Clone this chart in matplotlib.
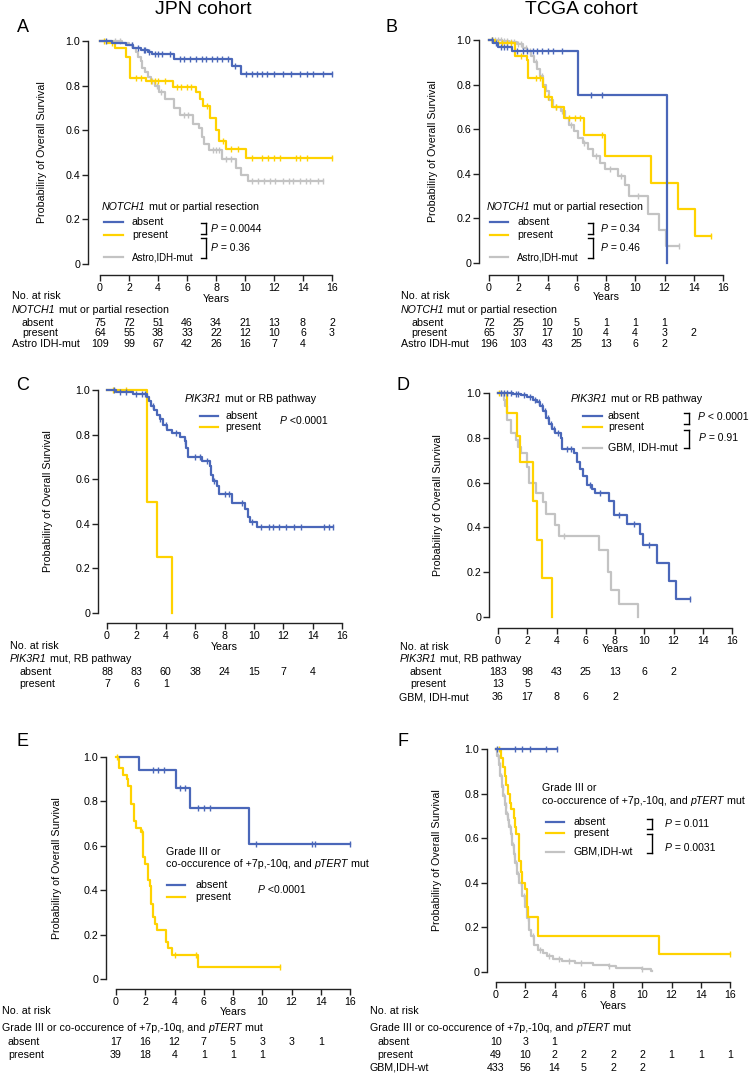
import matplotlib
matplotlib.use('Agg')
import matplotlib.pyplot as plt
import numpy as np
from matplotlib.lines import Line2D
from matplotlib.text import Annotation
from matplotlib.transforms import blended_transform_factory

plt.rcParams['font.family'] = ['Liberation Sans', 'DejaVu Sans']

BLUE = '#4a67b9'
YEL = '#ffd200'
GRAY = '#c3c3c3'

# ---------------- data ----------------
xticks = list(range(0, 17, 2))
yticks = [0, 0.2, 0.4, 0.6, 0.8, 1.0]
ytick_labels = ['0', '0.2', '0.4', '0.6', '0.8', '1.0']

# Panel A (JPN, NOTCH1)
A_abs_t = [0, 0.8, 1.8, 2.3, 2.8, 3.3, 3.6, 5.1, 9.1, 9.7]
A_abs_s = [1.0, 0.99, 0.98, 0.97, 0.96, 0.95, 0.94, 0.92, 0.89, 0.85]
A_abs_end = 16.0
A_abs_c = [0.4, 2.2, 2.6, 3.0, 3.1, 3.4, 3.8, 4.0, 4.3, 4.8, 5.5, 5.8, 6.2, 6.6, 7.0, 7.3, 7.7,
           8.1, 8.4, 8.8, 9.3, 10.1, 10.5, 10.8, 11.2, 11.5, 12.0, 12.6, 13.2, 13.8, 14.3, 14.7, 15.4, 16.0]
A_pre_t = [0, 0.5, 1.0, 1.8, 2.1, 3.2, 5.0, 6.6, 6.9, 7.1, 7.6, 8.0, 8.2, 8.7, 10.1]
A_pre_s = [1.0, 0.99, 0.97, 0.93, 0.835, 0.82, 0.795, 0.77, 0.74, 0.71, 0.655, 0.60, 0.55, 0.515, 0.475]
A_pre_end = 16.0
A_pre_c = [0.3, 0.8, 2.5, 2.8, 3.5, 3.8, 4.0, 4.5, 5.3, 5.6, 6.0, 6.3, 7.4, 8.5, 9.0, 9.5, 10.5,
           11.2, 11.6, 12.0, 12.4, 13.5, 13.8, 14.3, 16.0]
A_ast_t = [0, 1.5, 2.0, 2.3, 2.5, 2.6, 2.8, 2.9, 3.1, 3.3, 3.5, 3.8, 4.1, 4.5, 5.1, 5.5, 6.4, 6.8,
           7.0, 7.2, 7.5, 8.4, 9.4, 9.7, 10.2]
A_ast_s = [1.0, 0.99, 0.98, 0.97, 0.95, 0.93, 0.91, 0.88, 0.86, 0.84, 0.82, 0.80, 0.77, 0.74, 0.70,
           0.67, 0.63, 0.61, 0.57, 0.54, 0.51, 0.47, 0.43, 0.40, 0.37]
A_ast_end = 15.4
A_ast_c = [1.0, 1.4, 2.2, 3.6, 3.9, 4.2, 5.8, 6.1, 7.8, 8.0, 8.2, 8.7, 9.0, 10.5, 10.9, 11.3, 11.7,
           12.1, 12.6, 13.0, 13.3, 13.8, 14.2, 14.5, 15.0, 15.4]
A_risk_abs = [75, 72, 51, 46, 34, 21, 13, 8, 2]
A_risk_pre = [64, 55, 38, 33, 22, 12, 10, 6, 3]
A_risk_ast = [109, 99, 67, 42, 26, 16, 7, 4]

# Panel B (TCGA, NOTCH1)
B_abs_t = [0, 0.3, 0.6, 1.6, 6.1, 12.2]
B_abs_s = [1.0, 0.985, 0.97, 0.95, 0.755, 0.0]
B_abs_end = 12.2
B_abs_c = [0.2, 0.5, 0.8, 1.0, 1.2, 1.9, 2.3, 2.6, 3.0, 3.3, 3.6, 4.0, 4.4, 5.0, 7.0, 7.7]
B_pre_t = [0, 0.4, 1.8, 2.6, 2.7, 3.7, 3.8, 4.3, 5.1, 6.5, 7.9, 11.1, 12.9, 14.1]
B_pre_s = [1.0, 0.985, 0.93, 0.91, 0.83, 0.79, 0.745, 0.70, 0.65, 0.575, 0.48, 0.36, 0.24, 0.12]
B_pre_end = 15.2
B_pre_c = [0.2, 0.6, 0.9, 1.2, 1.5, 2.2, 3.2, 3.5, 4.0, 4.6, 5.5, 5.9, 6.2, 7.7, 15.2]
B_ast_t = [0, 0.9, 1.4, 1.9, 2.3, 2.6, 2.9, 3.1, 3.3, 3.5, 3.7, 3.9, 4.1, 4.4, 4.9, 5.2, 5.5, 5.8,
           6.1, 6.4, 6.8, 7.1, 7.6, 7.9, 8.8, 9.3, 9.6, 10.9, 11.6, 12.1]
B_ast_s = [1.0, 0.995, 0.99, 0.98, 0.965, 0.95, 0.93, 0.90, 0.87, 0.84, 0.80, 0.77, 0.73, 0.70,
           0.68, 0.65, 0.62, 0.59, 0.56, 0.54, 0.51, 0.48, 0.45, 0.42, 0.39, 0.35, 0.30, 0.22, 0.15, 0.075]
B_ast_end = 13.0
B_ast_c = [0.2, 0.4, 0.6, 0.8, 1.0, 1.2, 1.5, 1.7, 2.0, 2.2, 2.5, 2.8, 3.2, 3.6, 4.6, 5.0, 5.6, 6.5,
           7.3, 8.3, 9.0, 10.2, 13.0]
B_risk_abs = [72, 25, 10, 5, 1, 1, 1]
B_risk_pre = [65, 37, 17, 10, 4, 4, 3, 2]
B_risk_ast = [196, 103, 43, 25, 13, 6, 2]

# Panel C (JPN, PIK3R1)
C_abs_t = [0, 0.6, 1.8, 2.7, 2.85, 3.0, 3.2, 3.4, 3.6, 3.8, 4.1, 4.4, 5.0, 5.3, 5.4, 5.5, 6.5, 7.0,
           7.1, 7.2, 7.5, 7.6, 8.5, 9.4, 9.6, 9.75, 10.2]
C_abs_s = [1.0, 0.99, 0.98, 0.97, 0.95, 0.93, 0.91, 0.89, 0.87, 0.845, 0.82, 0.805, 0.79, 0.77,
           0.74, 0.70, 0.68, 0.66, 0.62, 0.59, 0.57, 0.535, 0.495, 0.465, 0.43, 0.41, 0.385]
C_abs_end = 15.4
C_abs_c = [0.5, 0.9, 1.3, 2.0, 2.4, 2.6, 3.1, 3.6, 4.0, 4.7, 5.3, 6.0, 6.3, 6.8, 7.3, 8.0, 8.3,
           9.2, 9.9, 10.5, 11.0, 11.3, 11.7, 12.2, 12.7, 13.2, 14.8, 15.1, 15.4]
C_pre_t = [0, 2.7, 3.4, 4.4]
C_pre_s = [1.0, 0.5, 0.25, 0.0]
C_pre_end = 4.4
C_pre_c = [0.4, 1.3]
C_risk_abs = [88, 83, 60, 38, 24, 15, 7, 4]
C_risk_pre = [7, 6, 1]

# Panel D (TCGA, PIK3R1)
D_abs_t = [0, 1.0, 1.6, 2.0, 2.4, 2.7, 2.9, 3.1, 3.3, 3.5, 3.7, 3.9, 4.3, 4.4, 5.2, 5.4, 5.6, 5.8,
           6.1, 6.4, 6.6, 7.6, 7.9, 8.8, 9.7, 9.9, 10.9, 11.7, 12.2]
D_abs_s = [1.0, 0.995, 0.99, 0.98, 0.97, 0.96, 0.94, 0.92, 0.89, 0.86, 0.84, 0.82, 0.80, 0.75,
           0.73, 0.69, 0.66, 0.63, 0.59, 0.57, 0.555, 0.52, 0.455, 0.415, 0.37, 0.32, 0.24, 0.16, 0.08]
D_abs_end = 13.1
D_abs_c = [0.2, 0.4, 0.6, 0.9, 1.2, 1.4, 1.8, 2.2, 2.5, 2.8, 3.0, 3.2, 3.4, 3.6, 3.8, 4.1, 4.7,
           5.0, 6.3, 7.0, 8.3, 9.3, 10.3, 13.1]
D_pre_t = [0, 0.6, 1.3, 1.5, 2.4, 2.7, 3.0, 3.7]
D_pre_s = [1.0, 0.91, 0.81, 0.69, 0.52, 0.345, 0.174, 0.0]
D_pre_end = 3.7
D_pre_c = [0.1]
D_gbm_t = [0, 0.4, 0.5, 0.6, 0.9, 1.2, 1.4, 1.6, 2.0, 2.1, 2.6, 3.1, 3.3, 3.9, 4.2, 6.9, 7.5, 7.7, 8.3, 9.6]
D_gbm_s = [1.0, 0.97, 0.94, 0.88, 0.82, 0.79, 0.76, 0.73, 0.67, 0.60, 0.555, 0.515, 0.46, 0.41,
           0.36, 0.30, 0.20, 0.12, 0.06, 0.0]
D_gbm_end = 9.6
D_gbm_c = [0.2, 4.5]
D_risk_abs = [183, 98, 43, 25, 13, 6, 2]
D_risk_pre = [13, 5]
D_risk_gbm = [36, 17, 8, 6, 2]

# Panel E (JPN, Grade III / +7p-10q / pTERT)
E_abs_t = [0, 1.6, 4.1, 5.05, 9.1]
E_abs_s = [1.0, 0.94, 0.86, 0.77, 0.61]
E_abs_end = 16.0
E_abs_c = [2.5, 2.9, 3.3, 4.4, 4.7, 5.6, 6.0, 6.4, 9.6, 13.4, 13.6, 16.0]
E_abs_start = 0.27
E_pre_t = [0, 0.2, 0.5, 0.75, 0.85, 1.0, 1.2, 1.4, 1.7, 1.85, 2.0, 2.2, 2.35, 2.4, 2.5, 2.65, 2.8,
           3.4, 3.55, 3.85, 5.6]
E_pre_s = [1.0, 0.95, 0.92, 0.90, 0.87, 0.79, 0.71, 0.68, 0.66, 0.55, 0.52, 0.445, 0.42, 0.34,
           0.28, 0.25, 0.22, 0.167, 0.14, 0.11, 0.055]
E_pre_end = 11.2
E_pre_c = [0.1, 1.8, 4.0, 5.5, 11.2]
E_risk_abs = [17, 16, 12, 7, 5, 3, 3, 1]
E_risk_pre = [39, 18, 4, 1, 1, 1]

# Panel F (TCGA, Grade III / +7p-10q / pTERT)
F_abs_t = [0]
F_abs_s = [1.0]
F_abs_end = 4.2
F_abs_c = [0.1, 1.3, 1.8, 2.3, 3.4, 4.2]
F_pre_t = [0, 0.35, 0.5, 0.6, 0.7, 0.8, 0.95, 1.05, 1.2, 1.3, 1.4, 1.55, 1.6, 1.7, 1.75, 2.0, 2.1,
           2.2, 2.85, 11.15]
F_pre_s = [1.0, 0.96, 0.92, 0.88, 0.84, 0.80, 0.76, 0.73, 0.69, 0.65, 0.62, 0.56, 0.50, 0.45,
           0.40, 0.37, 0.29, 0.245, 0.16, 0.08]
F_pre_end = 16.0
F_pre_c = [0.2, 16.0]
F_gbm_t = [0, 0.1, 0.2, 0.3, 0.4, 0.5, 0.6, 0.7, 0.8, 0.9, 1.0, 1.1, 1.2, 1.3, 1.45, 1.6, 1.8,
           1.95, 2.1, 2.25, 2.4, 2.6, 2.9, 3.2, 3.5, 3.9, 4.5, 5.4, 6.6, 7.7, 8.2, 10.0, 10.6]
F_gbm_s = [1.0, 0.97, 0.93, 0.88, 0.83, 0.79, 0.75, 0.71, 0.68, 0.65, 0.62, 0.57, 0.53, 0.49,
           0.44, 0.40, 0.34, 0.29, 0.24, 0.19, 0.16, 0.12, 0.10, 0.085, 0.07, 0.06, 0.05, 0.04,
           0.03, 0.025, 0.018, 0.013, 0.005]
F_gbm_end = 10.7
F_gbm_c = [0.15, 0.25, 0.35, 0.45, 0.55, 0.65, 0.75, 0.85, 0.95, 1.05, 1.15, 1.25, 1.35, 1.5,
           1.7, 1.9, 2.2, 2.5, 3.0, 3.6, 4.3, 5.0, 5.8, 7.7, 10.0]
F_risk_abs = [10, 3, 1]
F_risk_pre = [49, 10, 2, 2, 2, 2, 1, 1, 1]
F_risk_gbm = [433, 56, 14, 5, 2, 2]

# ---------------- figure ----------------
W, H = 750, 1076
fig = plt.figure(figsize=(W / 100, H / 100), dpi=100)
FS = 7.7


def ptext(x, y, s, **kw):
    kw.setdefault('fontsize', FS)
    kw.setdefault('va', 'center')
    return fig.text(x / W, 1 - y / H, s, **kw)


def rich(x, y, parts, fontsize=FS):
    """parts: list of (string, italic) drawn one after another."""
    first, it = parts[0]
    prev = ptext(x, y, first, fontsize=fontsize, style='italic' if it else 'normal')
    for s, it in parts[1:]:
        a = Annotation(s, xy=(1, 0.5), xycoords=prev, va='center', ha='left',
                       fontsize=fontsize, style='italic' if it else 'normal')
        fig.add_artist(a)
        prev = a
    return prev


def pline(x1, y1, x2, y2, color='black', lw=1.0):
    fig.add_artist(Line2D([x1 / W, x2 / W], [1 - y1 / H, 1 - y2 / H], color=color, lw=lw,
                          transform=fig.transFigure))


def bracket(x, y1, y2, w=5):
    pline(x, y1, x, y2, lw=1.0)
    pline(x - w, y1, x, y1, lw=1.0)
    pline(x - w, y2, x, y2, lw=1.0)


def add_ax(x0, x1, yt, yb, lo, bo):
    ax = fig.add_axes([x0 / W, 1 - yb / H, (x1 - x0) / W, (yb - yt) / H])
    ax.set_xlim(0, 16)
    ax.set_ylim(0, 1)
    for sp in ['top', 'right']:
        ax.spines[sp].set_visible(False)
    ax.spines['left'].set_position(('outward', lo * 0.72))
    ax.spines['bottom'].set_position(('outward', bo * 0.72))
    ax.spines['left'].set_bounds(0, 1)
    ax.spines['bottom'].set_bounds(0, 16)
    for sp in ['left', 'bottom']:
        ax.spines[sp].set_linewidth(1.0)
        ax.spines[sp].set_color('#222222')
    ax.set_xticks(xticks)
    ax.set_yticks(yticks)
    ax.set_yticklabels(ytick_labels)
    ax.tick_params(labelsize=7.7, length=4, width=1.0, pad=1.5, color='#222222')
    ax.patch.set_visible(False)
    return ax


def km(ax, t, s, end, cens, color, start=None, z=2):
    t = np.asarray(t, float)
    s = np.asarray(s, float)
    tt = np.append(t, end)
    ss = np.append(s, s[-1])
    if start is not None:
        tt[0] = start
    ax.step(tt, ss, where='post', color=color, lw=1.6, clip_on=False, zorder=z)
    c = np.asarray(cens, float)
    idx = np.searchsorted(t, c, side='right') - 1
    ax.plot(c, s[idx], ls='none', marker='|', ms=5, mew=1.0, color=color, clip_on=False, zorder=z)


def risk_row(ax, y, values):
    tr = blended_transform_factory(ax.transData, fig.transFigure)
    for xv, v in zip(xticks, values):
        ax.text(xv, 1 - y / H, str(v), transform=tr, ha='center', va='center', fontsize=FS,
                clip_on=False)


def ylab(x, yt, yb):
    ptext(x, (yt + yb) / 2, 'Probabiliry of Overall Survival', rotation=90, ha='center')


def pval(x, y, rest, fontsize=7.5):
    rich(x, y, [('P', True), (rest, False)], fontsize=fontsize)


# titles
ptext(203, 9, 'JPN cohort', fontsize=14, ha='center')
ptext(581, 9, 'TCGA cohort', fontsize=14, ha='center')
for lbl, x, y in [('A', 23, 27), ('B', 392, 27), ('C', 23, 385), ('D', 403, 385), ('E', 23, 742), ('F', 403, 742)]:
    ptext(x, y, lbl, fontsize=13, ha='center')

NOTCH = [('NOTCH1', True), (' mut or partial resection', False)]
PIK = [('PIK3R1', True), (' mut or RB pathway', False)]
PIKT = [('PIK3R1', True), (' mut, RB pathway', False)]
GRADE2 = [('co-occurence of +7p,-10q, and ', False), ('pTERT', True), (' mut', False)]
GRADET = [('Grade III or co-occurence of +7p,-10q, and ', False), ('pTERT', True), (' mut', False)]

# ---- Panel A ----
axA = add_ax(100, 332, 41, 264, 12, 11)
km(axA, A_ast_t, A_ast_s, A_ast_end, A_ast_c, GRAY, z=2)
km(axA, A_pre_t, A_pre_s, A_pre_end, A_pre_c, YEL, z=3)
km(axA, A_abs_t, A_abs_s, A_abs_end, A_abs_c, BLUE, z=4)
ylab(42, 41, 264)
ptext(216, 299, 'Years', ha='center')
rich(102, 207, NOTCH)
for y, c, s, fs in [(222, BLUE, 'absent', FS), (235, YEL, 'present', FS), (257, GRAY, 'Astro,IDH-mut', 7.0)]:
    pline(104, y, 123, y, color=c, lw=1.6)
    ptext(132, y, s, fontsize=fs)
bracket(206, 223, 234)
bracket(206, 238, 258)
pval(211, 229, ' = 0.0044')
pval(211, 248, ' = 0.36')
ptext(12, 296, 'No. at risk')
rich(12, 310, NOTCH)
ptext(22, 323, 'absent')
ptext(22, 333, 'present')
ptext(12, 344, 'Astro IDH-mut')
risk_row(axA, 323, A_risk_abs)
risk_row(axA, 333, A_risk_pre)
risk_row(axA, 344, A_risk_ast)

# ---- Panel B ----
axB = add_ax(489, 723, 40, 263, 10, 12)
km(axB, B_ast_t, B_ast_s, B_ast_end, B_ast_c, GRAY, z=2)
km(axB, B_pre_t, B_pre_s, B_pre_end, B_pre_c, YEL, z=3)
km(axB, B_abs_t, B_abs_s, B_abs_end, B_abs_c, BLUE, z=4)
ylab(433, 40, 263)
ptext(606, 297, 'Years', ha='center')
rich(487, 207, NOTCH)
for y, c, s, fs in [(222, BLUE, 'absent', FS), (235, YEL, 'present', FS), (257, GRAY, 'Astro,IDH-mut', 7.0)]:
    pline(490, y, 508, y, color=c, lw=1.6)
    ptext(517, y, s, fontsize=fs)
bracket(593, 223, 234)
bracket(593, 238, 258)
pval(601, 229, ' = 0.34')
pval(601, 248, ' = 0.46')
ptext(401, 296, 'No. at risk')
rich(401, 310, NOTCH)
ptext(411, 323, 'absent')
ptext(411, 333, 'present')
ptext(401, 344, 'Astro IDH-mut')
risk_row(axB, 323, B_risk_abs)
risk_row(axB, 333, B_risk_pre)
risk_row(axB, 344, B_risk_ast)

# ---- Panel C ----
axC = add_ax(107, 342, 390, 613, 9, 10)
km(axC, C_pre_t, C_pre_s, C_pre_end, C_pre_c, YEL, z=3)
km(axC, C_abs_t, C_abs_s, C_abs_end, C_abs_c, BLUE, z=4)
ylab(48, 390, 613)
ptext(224, 647, 'Years', ha='center')
rich(185, 399, PIK)
for y, c, s in [(416, BLUE, 'absent'), (427, YEL, 'present')]:
    pline(200, y, 218, y, color=c, lw=1.6)
    ptext(225, y, s)
pval(280, 421, ' <0.0001')
ptext(10, 646, 'No. at risk')
rich(10, 659, PIKT)
ptext(19, 672, 'absent')
ptext(19, 684, 'present')
risk_row(axC, 672, C_risk_abs)
risk_row(axC, 684, C_risk_pre)

# ---- Panel D ----
axD = add_ax(498, 732, 393, 617, 9, 11)
km(axD, D_gbm_t, D_gbm_s, D_gbm_end, D_gbm_c, GRAY, z=2)
km(axD, D_pre_t, D_pre_s, D_pre_end, D_pre_c, YEL, z=3)
km(axD, D_abs_t, D_abs_s, D_abs_end, D_abs_c, BLUE, z=4)
ylab(438, 393, 617)
ptext(615, 649, 'Years', ha='center')
rich(571, 399, PIK)
for y, c, s in [(416, BLUE, 'absent'), (427, YEL, 'present'), (448, GRAY, 'GBM, IDH-mut')]:
    pline(583, y, 602, y, color=c, lw=1.6)
    ptext(608, y, s)
bracket(689, 413, 424)
bracket(689, 430, 448)
pval(698, 417, ' < 0.0001')
pval(699, 438, ' = 0.91')
ptext(400, 647, 'No. at risk')
rich(400, 659, PIKT)
ptext(410, 672, 'absent')
ptext(410, 684, 'present')
ptext(399, 697, 'GBM, IDH-mut')
risk_row(axD, 672, D_risk_abs)
risk_row(axD, 684, D_risk_pre)
risk_row(axD, 697, D_risk_gbm)

# ---- Panel E ----
axE = add_ax(116, 350, 757, 979, 10, 10)
km(axE, E_pre_t, E_pre_s, E_pre_end, E_pre_c, YEL, z=3)
km(axE, E_abs_t, E_abs_s, E_abs_end, E_abs_c, BLUE, start=E_abs_start, z=4)
ylab(57, 757, 979)
ptext(233, 1012, 'Years', ha='center')
ptext(166, 852, 'Grade III or')
rich(166, 864, GRADE2)
for y, c, s in [(885, BLUE, 'absent'), (897, YEL, 'present')]:
    pline(167, y, 185, y, color=c, lw=1.6)
    ptext(195, y, s)
pval(258, 890, ' <0.0001')
ptext(2, 1011, 'No. at risk')
rich(2, 1028, GRADET)
ptext(8, 1042, 'absent')
ptext(8, 1055, 'present')
risk_row(axE, 1042, E_risk_abs)
risk_row(axE, 1055, E_risk_pre)

# ---- Panel F ----
axF = add_ax(496, 730, 749, 972, 9, 10)
km(axF, F_gbm_t, F_gbm_s, F_gbm_end, F_gbm_c, GRAY, z=2)
km(axF, F_pre_t, F_pre_s, F_pre_end, F_pre_c, YEL, z=3)
km(axF, F_abs_t, F_abs_s, F_abs_end, F_abs_c, BLUE, z=4)
ylab(437, 749, 972)
ptext(613, 1006, 'Years', ha='center')
ptext(542, 788, 'Grade III or')
rich(542, 801, GRADE2)
for y, c, s in [(822, BLUE, 'absent'), (833, YEL, 'present'), (852, GRAY, 'GBM,IDH-wt')]:
    pline(546, y, 564, y, color=c, lw=1.6)
    ptext(573, y, s)
bracket(652, 819, 829)
bracket(652, 834, 853)
pval(665, 824, ' = 0.011')
pval(665, 848, ' = 0.0031')
ptext(370, 1011, 'No. at risk')
rich(370, 1028, GRADET)
ptext(377, 1042, 'absent')
ptext(377, 1055, 'present')
ptext(370, 1068, 'GBM,IDH-wt')
risk_row(axF, 1042, F_risk_abs)
risk_row(axF, 1055, F_risk_pre)
risk_row(axF, 1068, F_risk_gbm)

fig.savefig('out.png', dpi=100, facecolor='white')
